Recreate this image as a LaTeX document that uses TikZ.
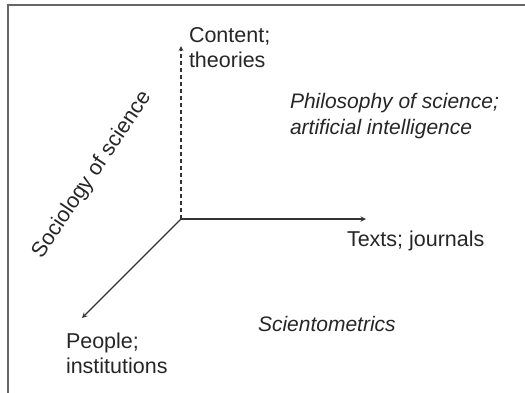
\documentclass[tikz,border=0pt]{standalone}
\usepackage{fontspec}
\setmainfont{Liberation Sans}
\begin{document}
\begin{tikzpicture}[x=1pt,y=-1pt,inner sep=0pt,outer sep=0pt,>=stealth,
axis/.style={draw=black!80,line width=1.4pt,->},
lbl/.style={font=\fontsize{21.5}{25}\selectfont,align=left,text=black!85}]
\useasboundingbox (0,0) rectangle (525,392);
% frame, only its top and left edges fall inside the page
\draw[black!60,line width=2pt] (8,400) -- (8,4.5) -- (540,4.5);
% the three axes
\coordinate (o) at (181,219);
\coordinate (up) at (181,46);
\coordinate (right) at (366,219);
\coordinate (down) at (82,318);
\draw[axis,line width=1.2pt,dash pattern=on 4pt off 3pt] (o) -- (up);
\draw[axis] (o) -- (right);
\draw[axis] (o) -- (down);
% axis labels (base sits on the last line)
\draw (189,67) node[lbl,anchor=base west] (content) {Content;\\theories};
\draw (347,246) node[lbl,anchor=base west] (texts) {Texts; journals};
\draw (66,373) node[lbl,anchor=base west] (people) {People;\\institutions};
% fields between the axes
\draw (290,134) node[lbl,anchor=base west,font=\fontsize{21}{26}\itshape] (philo) {Philosophy of science;\\artificial intelligence};
\draw (258,331) node[lbl,anchor=base west,font=\fontsize{21}{25}\itshape] (sciento) {Scientometrics};
\draw (92,175) node[lbl,rotate=56] (socio) {Sociology of science};
\end{tikzpicture}
\end{document}
